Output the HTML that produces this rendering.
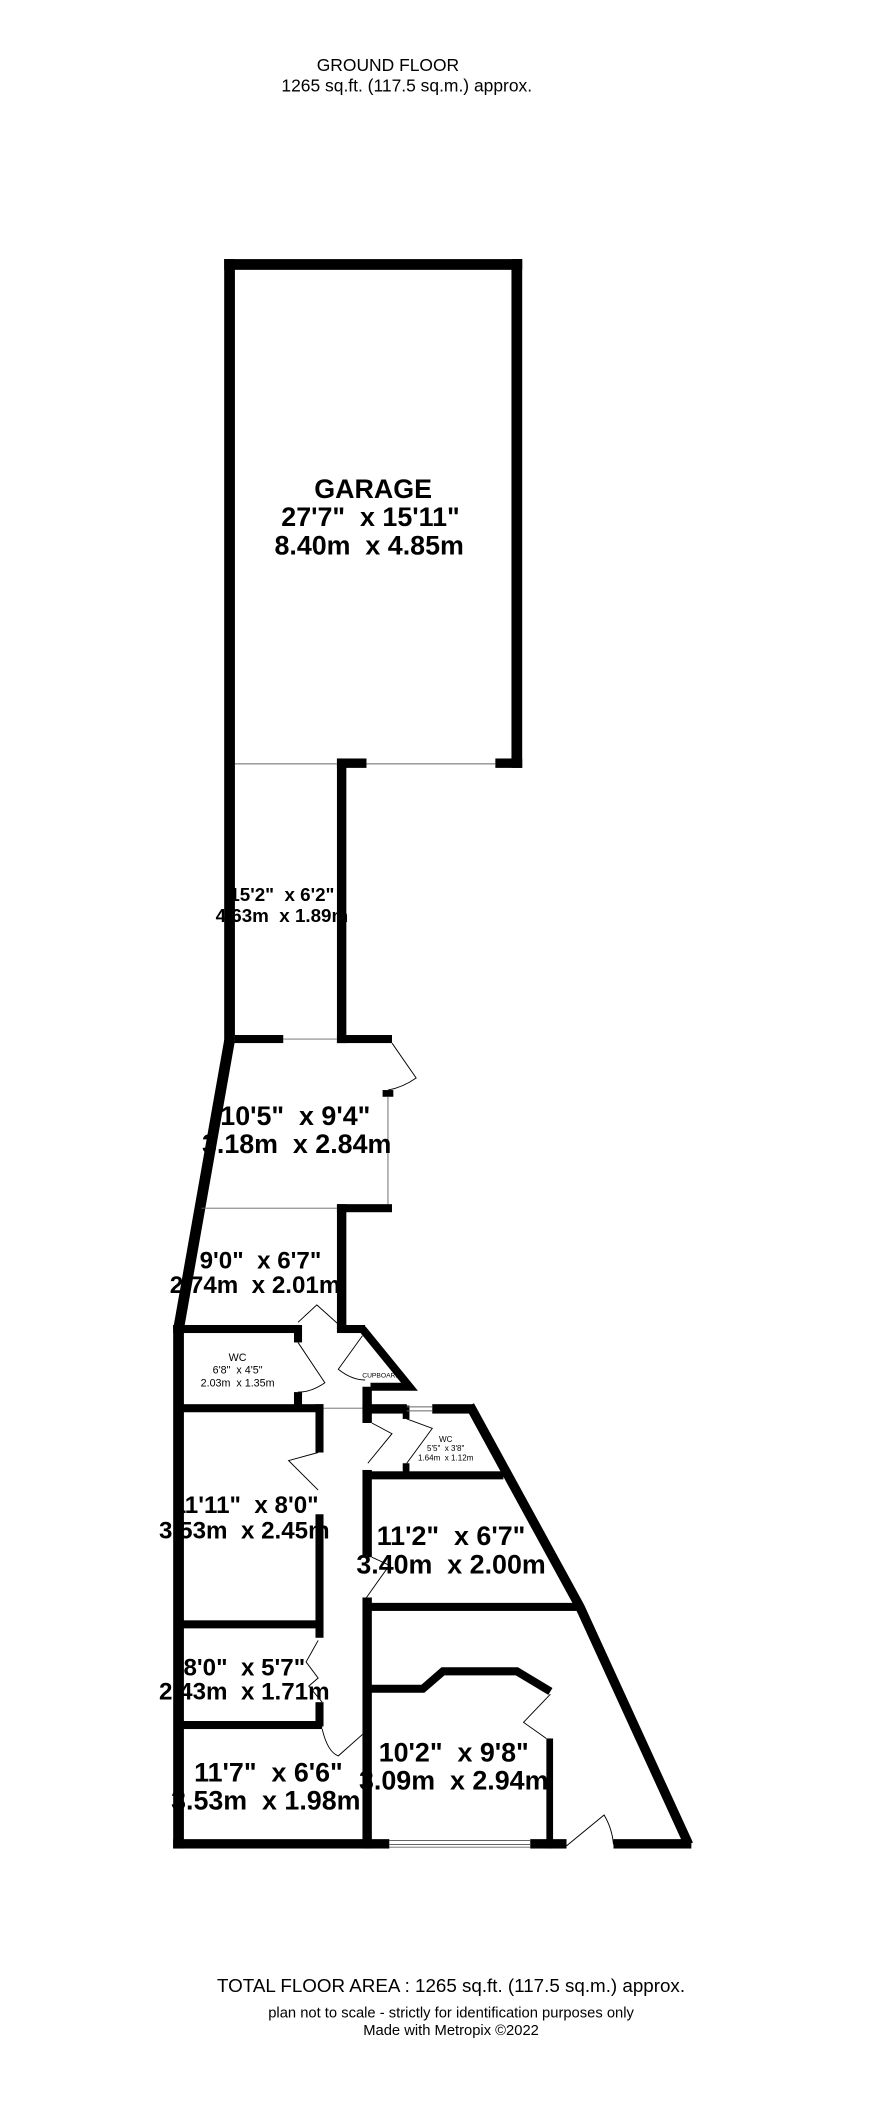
<!DOCTYPE html>
<html><head><meta charset="utf-8"><style>
html,body{margin:0;padding:0;background:#fff}
svg{display:block}
text{font-family:"Liberation Sans",Arial,sans-serif;fill:#000;white-space:pre}
.b{font-weight:bold}
</style></head><body>
<svg width="886" height="2113" viewBox="0 0 660 1574" xmlns="http://www.w3.org/2000/svg" xml:space="preserve">
<g text-anchor="middle">
<text x="289" y="53" font-size="13">GROUND FLOOR</text>
<text x="303" y="68" font-size="13">1265 sq.ft. (117.5 sq.m.) approx.</text>
<text x="336" y="1484" font-size="14">TOTAL FLOOR AREA : 1265 sq.ft. (117.5 sq.m.) approx.</text>
<text x="336" y="1503" font-size="11">plan not to scale - strictly for identification purposes only</text>
<text x="336" y="1516" font-size="11">Made with Metropix ©2022</text>
</g>
<g fill="#000">
<rect x="167" y="193" width="222" height="8"/>
<rect x="167" y="193" width="8" height="584"/>
<rect x="381" y="193" width="8" height="379"/>
<rect x="369" y="565" width="20" height="7"/>
<rect x="251" y="565" width="22" height="7"/>
<rect x="251" y="565" width="7" height="212"/>
<rect x="175" y="771" width="36" height="6"/>
<rect x="251" y="771" width="41" height="6"/>
<rect x="285" y="812" width="8" height="5"/>
<rect x="251" y="897" width="41" height="6"/>
<rect x="251" y="897" width="7" height="93"/>
<rect x="251" y="987" width="21" height="6"/>
<rect x="129" y="987" width="93" height="6"/>
<rect x="129" y="987" width="8" height="390"/>
<rect x="219" y="987" width="6" height="13"/>
<rect x="219" y="1037" width="6" height="12"/>
<rect x="133" y="1046" width="108" height="6"/>
<rect x="235" y="1046" width="6" height="36"/>
<rect x="235" y="1128" width="6" height="92"/>
<rect x="133" y="1207" width="106" height="6"/>
<rect x="235" y="1268" width="6" height="18"/>
<rect x="133" y="1282" width="107" height="6"/>
<rect x="270" y="1033" width="7" height="27"/>
<rect x="270" y="1095" width="7" height="65"/>
<rect x="270" y="1190" width="7" height="187"/>
<rect x="270" y="1046" width="33" height="7"/>
<rect x="322" y="1046" width="30" height="7"/>
<rect x="300" y="1047" width="5" height="10"/>
<rect x="300" y="1090" width="5" height="10"/>
<rect x="272" y="1096" width="103" height="6"/>
<rect x="272" y="1194" width="160" height="6"/>
<rect x="407" y="1295" width="5" height="82"/>
<rect x="129" y="1370" width="161" height="7"/>
<rect x="395" y="1370" width="27" height="7"/>
<rect x="457" y="1370" width="58" height="7"/>
</g>
<g stroke="#000" fill="none">
<polyline points="171,775 133,990" stroke-width="8"/>
<polyline points="270,990 305,1033 276,1033" stroke-width="6"/>
<polyline points="350,1047 432,1197 513,1374" stroke-width="7"/>
<polyline points="272,1258 315,1258 330,1245 385,1245 410,1260" stroke-width="6"/>
</g>
<g stroke="#666" stroke-width="0.7" fill="none">
<line x1="175" y1="569" x2="251" y2="569"/>
<line x1="273" y1="569" x2="369" y2="569"/>
<line x1="211" y1="774" x2="251" y2="774"/>
<line x1="289" y1="817" x2="289" y2="897"/>
<line x1="150" y1="900" x2="251" y2="900"/>
<line x1="241" y1="1049" x2="270" y2="1049"/>
<line x1="290" y1="1371" x2="395" y2="1371"/>
<line x1="290" y1="1374" x2="395" y2="1374"/>
<line x1="290" y1="1376" x2="395" y2="1376"/>
<line x1="303" y1="1048" x2="322" y2="1048"/>
<line x1="303" y1="1051" x2="322" y2="1051"/>
</g>
<g stroke="#000" stroke-width="0.7" fill="none">
<path d="M292,777 L310,803 Q300,810 289,812"/>
<path d="M222,1000 L242,1030 Q232,1037 222,1037"/>
<path d="M256,990 L236,972 L222,985"/>
<path d="M270,995 L252,1020 Q262,1028 272,1028"/>
<path d="M237,1082 L215,1088 L237,1110"/>
<path d="M277,1060 L292,1068 L274,1090"/>
<path d="M303,1057 L322,1064 L303,1090"/>
<path d="M277,1160 L290,1166 L273,1190"/>
<path d="M237,1222 L228,1238 L237,1250 L230,1256 L240,1268"/>
<path d="M240,1288 Q244,1305 252,1308 L270,1292"/>
<path d="M410,1262 L390,1283 L407,1295"/>
<path d="M422,1375 L450,1352 Q456,1362 457,1374"/>
</g>
<g class="b" text-anchor="middle">
<text x="278" y="371" font-size="20">GARAGE</text>
<text x="276" y="392" font-size="20">27'7"  x 15'11"</text>
<text x="275" y="413" font-size="20">8.40m  x 4.85m</text>
<text x="210" y="671" font-size="14">15'2"  x 6'2"</text>
<text x="210" y="687" font-size="14">4.63m  x 1.89m</text>
<text x="220" y="838" font-size="20">10'5"  x 9'4"</text>
<text x="221" y="859" font-size="20">3.18m  x 2.84m</text>
<text x="194" y="945" font-size="18">9'0"  x 6'7"</text>
<text x="190" y="963" font-size="18">2.74m  x 2.01m</text>
<text x="183" y="1127" font-size="18">11'11"  x 8'0"</text>
<text x="182" y="1146" font-size="18">3.53m  x 2.45m</text>
<text x="336" y="1151" font-size="20">11'2"  x 6'7"</text>
<text x="336" y="1172" font-size="20">3.40m  x 2.00m</text>
<text x="182" y="1248" font-size="18">8'0"  x 5'7"</text>
<text x="182" y="1266" font-size="18">2.43m  x 1.71m</text>
<text x="200" y="1327" font-size="20">11'7"  x 6'6"</text>
<text x="198" y="1348" font-size="20">3.53m  x 1.98m</text>
<text x="338" y="1312" font-size="20">10'2"  x 9'8"</text>
<text x="338" y="1333" font-size="20">3.09m  x 2.94m</text>
</g>
<g text-anchor="middle">
<text x="177" y="1014" font-size="8">WC</text>
<text x="177" y="1023" font-size="8">6'8"  x 4'5"</text>
<text x="177" y="1033" font-size="8">2.03m  x 1.35m</text>
<text x="332" y="1074" font-size="6">WC</text>
<text x="332" y="1081" font-size="6">5'5"  x 3'8"</text>
<text x="332" y="1088" font-size="6">1.64m  x 1.12m</text>
<text x="284" y="1026" font-size="5">CUPBOARD</text>
</g>
</svg>
</body></html>
